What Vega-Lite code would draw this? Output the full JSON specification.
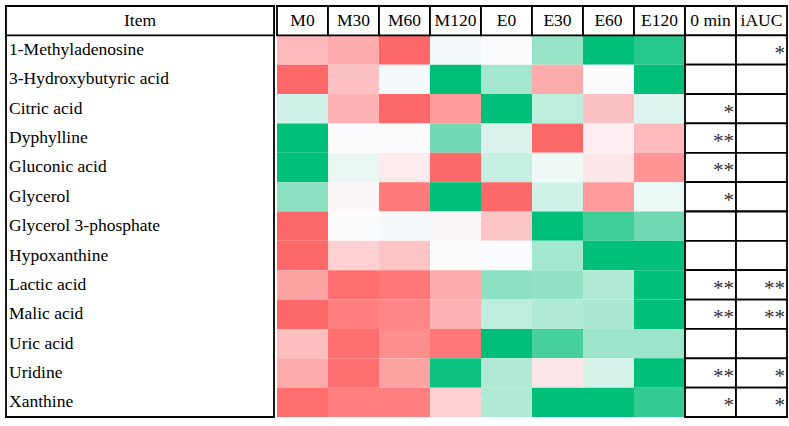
{
  "$schema": "https://vega.github.io/schema/vega-lite/v6.json",
  "padding": {"left": 4, "top": 4, "right": 5, "bottom": 5},
  "background": "white",
  "config": {
    "view": {"stroke": null},
    "font": "Liberation Serif"
  },
  "datasets": {
    "names": [
      {"item": "1-Methyladenosine"}, {"item": "3-Hydroxybutyric acid"}, {"item": "Citric acid"},
      {"item": "Dyphylline"}, {"item": "Gluconic acid"}, {"item": "Glycerol"},
      {"item": "Glycerol 3-phosphate"}, {"item": "Hypoxanthine"}, {"item": "Lactic acid"},
      {"item": "Malic acid"}, {"item": "Uric acid"}, {"item": "Uridine"}, {"item": "Xanthine"}
    ],
    "head": [
      {"item": "Item", "col": "M0"}, {"item": "Item", "col": "M30"}, {"item": "Item", "col": "M60"},
      {"item": "Item", "col": "M120"}, {"item": "Item", "col": "E0"}, {"item": "Item", "col": "E30"},
      {"item": "Item", "col": "E60"}, {"item": "Item", "col": "E120"}, {"item": "Item", "col": "0 min"},
      {"item": "Item", "col": "iAUC"}
    ],
    "heat": [
      {"item": "1-Methyladenosine", "col": "M0", "v": -0.45}, {"item": "1-Methyladenosine", "col": "M30", "v": -0.55}, {"item": "1-Methyladenosine", "col": "M60", "v": -1}, {"item": "1-Methyladenosine", "col": "M120", "v": 0.03}, {"item": "1-Methyladenosine", "col": "E0", "v": 0}, {"item": "1-Methyladenosine", "col": "E30", "v": 0.4}, {"item": "1-Methyladenosine", "col": "E60", "v": 1}, {"item": "1-Methyladenosine", "col": "E120", "v": 0.85},
      {"item": "3-Hydroxybutyric acid", "col": "M0", "v": -1}, {"item": "3-Hydroxybutyric acid", "col": "M30", "v": -0.4}, {"item": "3-Hydroxybutyric acid", "col": "M60", "v": 0.03}, {"item": "3-Hydroxybutyric acid", "col": "M120", "v": 1}, {"item": "3-Hydroxybutyric acid", "col": "E0", "v": 0.35}, {"item": "3-Hydroxybutyric acid", "col": "E30", "v": -0.55}, {"item": "3-Hydroxybutyric acid", "col": "E60", "v": 0}, {"item": "3-Hydroxybutyric acid", "col": "E120", "v": 1},
      {"item": "Citric acid", "col": "M0", "v": 0.18}, {"item": "Citric acid", "col": "M30", "v": -0.5}, {"item": "Citric acid", "col": "M60", "v": -1}, {"item": "Citric acid", "col": "M120", "v": -0.65}, {"item": "Citric acid", "col": "E0", "v": 1}, {"item": "Citric acid", "col": "E30", "v": 0.25}, {"item": "Citric acid", "col": "E60", "v": -0.4}, {"item": "Citric acid", "col": "E120", "v": 0.12},
      {"item": "Dyphylline", "col": "M0", "v": 1}, {"item": "Dyphylline", "col": "M30", "v": 0}, {"item": "Dyphylline", "col": "M60", "v": 0}, {"item": "Dyphylline", "col": "M120", "v": 0.55}, {"item": "Dyphylline", "col": "E0", "v": 0.14}, {"item": "Dyphylline", "col": "E30", "v": -1}, {"item": "Dyphylline", "col": "E60", "v": -0.1}, {"item": "Dyphylline", "col": "E120", "v": -0.45},
      {"item": "Gluconic acid", "col": "M0", "v": 1}, {"item": "Gluconic acid", "col": "M30", "v": 0.08}, {"item": "Gluconic acid", "col": "M60", "v": -0.12}, {"item": "Gluconic acid", "col": "M120", "v": -1}, {"item": "Gluconic acid", "col": "E0", "v": 0.22}, {"item": "Gluconic acid", "col": "E30", "v": 0.06}, {"item": "Gluconic acid", "col": "E60", "v": -0.15}, {"item": "Gluconic acid", "col": "E120", "v": -0.7},
      {"item": "Glycerol", "col": "M0", "v": 0.45}, {"item": "Glycerol", "col": "M30", "v": -0.04}, {"item": "Glycerol", "col": "M60", "v": -0.88}, {"item": "Glycerol", "col": "M120", "v": 1}, {"item": "Glycerol", "col": "E0", "v": -1}, {"item": "Glycerol", "col": "E30", "v": 0.18}, {"item": "Glycerol", "col": "E60", "v": -0.65}, {"item": "Glycerol", "col": "E120", "v": 0.07},
      {"item": "Glycerol 3-phosphate", "col": "M0", "v": -1}, {"item": "Glycerol 3-phosphate", "col": "M30", "v": 0}, {"item": "Glycerol 3-phosphate", "col": "M60", "v": 0.03}, {"item": "Glycerol 3-phosphate", "col": "M120", "v": -0.05}, {"item": "Glycerol 3-phosphate", "col": "E0", "v": -0.38}, {"item": "Glycerol 3-phosphate", "col": "E30", "v": 1}, {"item": "Glycerol 3-phosphate", "col": "E60", "v": 0.75}, {"item": "Glycerol 3-phosphate", "col": "E120", "v": 0.55},
      {"item": "Hypoxanthine", "col": "M0", "v": -1}, {"item": "Hypoxanthine", "col": "M30", "v": -0.3}, {"item": "Hypoxanthine", "col": "M60", "v": -0.38}, {"item": "Hypoxanthine", "col": "M120", "v": 0}, {"item": "Hypoxanthine", "col": "E0", "v": 0.01}, {"item": "Hypoxanthine", "col": "E30", "v": 0.35}, {"item": "Hypoxanthine", "col": "E60", "v": 1}, {"item": "Hypoxanthine", "col": "E120", "v": 1},
      {"item": "Lactic acid", "col": "M0", "v": -0.6}, {"item": "Lactic acid", "col": "M30", "v": -0.95}, {"item": "Lactic acid", "col": "M60", "v": -0.9}, {"item": "Lactic acid", "col": "M120", "v": -0.55}, {"item": "Lactic acid", "col": "E0", "v": 0.45}, {"item": "Lactic acid", "col": "E30", "v": 0.42}, {"item": "Lactic acid", "col": "E60", "v": 0.3}, {"item": "Lactic acid", "col": "E120", "v": 1},
      {"item": "Malic acid", "col": "M0", "v": -1}, {"item": "Malic acid", "col": "M30", "v": -0.85}, {"item": "Malic acid", "col": "M60", "v": -0.8}, {"item": "Malic acid", "col": "M120", "v": -0.5}, {"item": "Malic acid", "col": "E0", "v": 0.25}, {"item": "Malic acid", "col": "E30", "v": 0.3}, {"item": "Malic acid", "col": "E60", "v": 0.33}, {"item": "Malic acid", "col": "E120", "v": 1},
      {"item": "Uric acid", "col": "M0", "v": -0.42}, {"item": "Uric acid", "col": "M30", "v": -0.95}, {"item": "Uric acid", "col": "M60", "v": -0.75}, {"item": "Uric acid", "col": "M120", "v": -0.9}, {"item": "Uric acid", "col": "E0", "v": 1}, {"item": "Uric acid", "col": "E30", "v": 0.72}, {"item": "Uric acid", "col": "E60", "v": 0.38}, {"item": "Uric acid", "col": "E120", "v": 0.38},
      {"item": "Uridine", "col": "M0", "v": -0.55}, {"item": "Uridine", "col": "M30", "v": -0.95}, {"item": "Uridine", "col": "M60", "v": -0.6}, {"item": "Uridine", "col": "M120", "v": 0.95}, {"item": "Uridine", "col": "E0", "v": 0.3}, {"item": "Uridine", "col": "E30", "v": -0.15}, {"item": "Uridine", "col": "E60", "v": 0.15}, {"item": "Uridine", "col": "E120", "v": 1},
      {"item": "Xanthine", "col": "M0", "v": -0.95}, {"item": "Xanthine", "col": "M30", "v": -0.85}, {"item": "Xanthine", "col": "M60", "v": -0.85}, {"item": "Xanthine", "col": "M120", "v": -0.3}, {"item": "Xanthine", "col": "E0", "v": 0.3}, {"item": "Xanthine", "col": "E30", "v": 1}, {"item": "Xanthine", "col": "E60", "v": 1}, {"item": "Xanthine", "col": "E120", "v": 0.8}
    ],
    "sig": [
      {"item": "1-Methyladenosine", "col": "0 min", "sig": ""}, {"item": "1-Methyladenosine", "col": "iAUC", "sig": "*"},
      {"item": "3-Hydroxybutyric acid", "col": "0 min", "sig": ""}, {"item": "3-Hydroxybutyric acid", "col": "iAUC", "sig": ""},
      {"item": "Citric acid", "col": "0 min", "sig": "*"}, {"item": "Citric acid", "col": "iAUC", "sig": ""},
      {"item": "Dyphylline", "col": "0 min", "sig": "**"}, {"item": "Dyphylline", "col": "iAUC", "sig": ""},
      {"item": "Gluconic acid", "col": "0 min", "sig": "**"}, {"item": "Gluconic acid", "col": "iAUC", "sig": ""},
      {"item": "Glycerol", "col": "0 min", "sig": "*"}, {"item": "Glycerol", "col": "iAUC", "sig": ""},
      {"item": "Glycerol 3-phosphate", "col": "0 min", "sig": ""}, {"item": "Glycerol 3-phosphate", "col": "iAUC", "sig": ""},
      {"item": "Hypoxanthine", "col": "0 min", "sig": ""}, {"item": "Hypoxanthine", "col": "iAUC", "sig": ""},
      {"item": "Lactic acid", "col": "0 min", "sig": "**"}, {"item": "Lactic acid", "col": "iAUC", "sig": "**"},
      {"item": "Malic acid", "col": "0 min", "sig": "**"}, {"item": "Malic acid", "col": "iAUC", "sig": "**"},
      {"item": "Uric acid", "col": "0 min", "sig": ""}, {"item": "Uric acid", "col": "iAUC", "sig": ""},
      {"item": "Uridine", "col": "0 min", "sig": "**"}, {"item": "Uridine", "col": "iAUC", "sig": "*"},
      {"item": "Xanthine", "col": "0 min", "sig": "*"}, {"item": "Xanthine", "col": "iAUC", "sig": "*"}
    ]
  },
  "hconcat": [
    {
      "width": 268,
      "height": 411,
      "view": {"stroke": "black", "strokeWidth": 1.8},
      "encoding": {
        "y": {"field": "item", "type": "nominal", "axis": null,
          "scale": {"domain": ["Item", "1-Methyladenosine", "3-Hydroxybutyric acid", "Citric acid", "Dyphylline", "Gluconic acid", "Glycerol", "Glycerol 3-phosphate", "Hypoxanthine", "Lactic acid", "Malic acid", "Uric acid", "Uridine", "Xanthine"], "paddingInner": 0, "paddingOuter": 0}}
      },
      "layer": [
        {
          "data": {"values": [{"item": "Item", "col": "Item"}]},
          "mark": {"type": "rect", "fill": "white", "stroke": "black", "strokeWidth": 1.8},
          "encoding": {"x": {"field": "col", "type": "nominal", "axis": null, "scale": {"domain": ["Item"], "paddingInner": 0, "paddingOuter": 0}}}
        },
        {
          "data": {"values": [{"item": "Item", "col": "Item"}]},
          "mark": {"type": "text", "align": "center", "baseline": "middle", "font": "Liberation Serif", "fontSize": 17.5, "color": "black"},
          "encoding": {"x": {"field": "col", "type": "nominal", "axis": null}, "text": {"field": "col"}}
        },
        {
          "data": {"name": "names"},
          "mark": {"type": "text", "align": "left", "baseline": "middle", "dx": 3, "font": "Liberation Serif", "fontSize": 17.5, "color": "black"},
          "encoding": {"x": {"datum": "Item", "type": "nominal", "bandPosition": 0, "axis": null}, "text": {"field": "item"}}
        }
      ]
    },
    {
      "width": 510,
      "height": 411,
      "encoding": {
        "y": {"field": "item", "type": "nominal", "axis": null,
          "scale": {"domain": ["Item", "1-Methyladenosine", "3-Hydroxybutyric acid", "Citric acid", "Dyphylline", "Gluconic acid", "Glycerol", "Glycerol 3-phosphate", "Hypoxanthine", "Lactic acid", "Malic acid", "Uric acid", "Uridine", "Xanthine"], "paddingInner": 0, "paddingOuter": 0}},
        "x": {"field": "col", "type": "nominal", "axis": null,
          "scale": {"domain": ["M0", "M30", "M60", "M120", "E0", "E30", "E60", "E120", "0 min", "iAUC"], "paddingInner": 0, "paddingOuter": 0}}
      },
      "layer": [
        {
          "data": {"name": "heat"},
          "mark": {"type": "rect"},
          "encoding": {
            "color": {"field": "v", "type": "quantitative", "legend": null,
              "scale": {"domain": [-1, 0, 1], "range": ["#ff6868", "#fcfcff", "#00bf78"], "interpolate": "rgb"}}
          }
        },
        {
          "data": {"name": "head"},
          "mark": {"type": "rect", "fill": "white", "stroke": "black", "strokeWidth": 1.8}
        },
        {
          "data": {"name": "sig"},
          "mark": {"type": "rect", "fill": "white", "stroke": "black", "strokeWidth": 1.8}
        },
        {
          "data": {"name": "head"},
          "mark": {"type": "text", "align": "center", "baseline": "middle", "font": "Liberation Serif", "fontSize": 17.5, "color": "black"},
          "encoding": {"text": {"field": "col"}}
        },
        {
          "data": {"name": "sig"},
          "mark": {"type": "text", "align": "right", "baseline": "middle", "dx": -2, "dy": 4, "color": "#333", "font": "Liberation Serif", "fontSize": 21},
          "encoding": {"x": {"field": "col", "type": "nominal", "bandPosition": 1, "axis": null}, "text": {"field": "sig"}}
        }
      ]
    }
  ],
  "spacing": 0
}
